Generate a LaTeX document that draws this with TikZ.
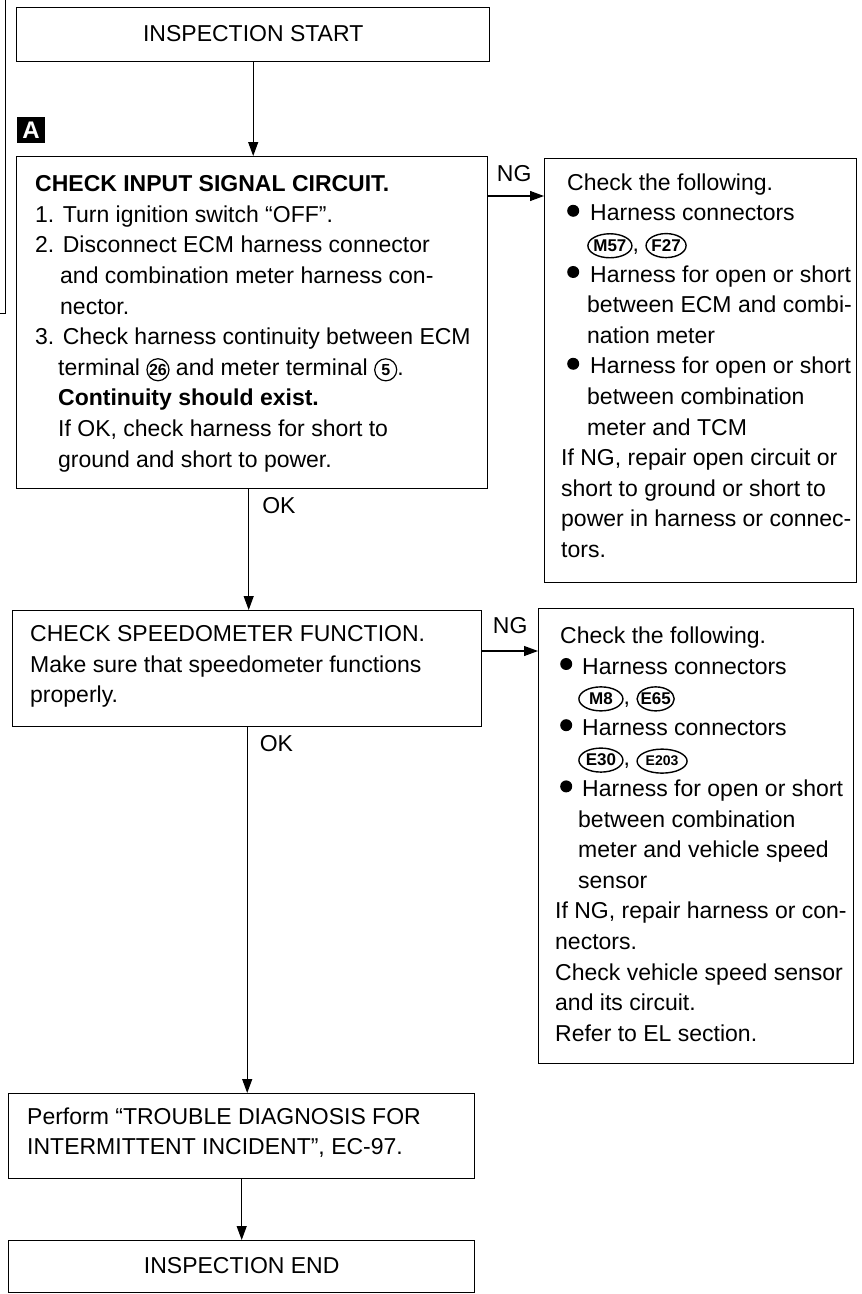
\documentclass[tikz,border=0pt]{standalone}
\usepackage{fontspec}
\setmainfont{Liberation Sans}
\usetikzlibrary{arrows.meta, positioning, shapes.geometric}

\newcommand{\bodysize}{\fontsize{23}{30.6}\selectfont}
\newcommand{\bul}{\raisebox{0.18em}{\tikz\fill (0,0) circle (6pt);}}
\newcommand{\termno}[1]{\tikz[baseline=(tn.base)]\node[draw, circle, line width=1.2pt, inner sep=0pt, minimum size=22pt, font=\bfseries\fontsize{16}{16}\selectfont] (tn) {#1};}
\newcommand{\connbadge}[2][44pt]{\tikz[baseline=(cb.base)]\node[draw, ellipse, line width=1.4pt, inner xsep=-2pt, inner ysep=0pt, minimum width=#1, minimum height=24pt, font=\bfseries\fontsize{17}{17}\selectfont] (cb) {#2};}

\tikzset{
  stepbox/.style={draw, line width=1.4pt, anchor=north west, inner sep=0pt, font=\bodysize},
  steptext/.style={anchor=west, inner sep=0pt, align=left, font=\bodysize},
  flow/.style={line width=1.1pt, -{Triangle[width=10pt, length=14pt]}},
  branch/.style={font=\bodysize, inner sep=0pt}
}

\begin{document}
\begin{tikzpicture}[x=1pt, y=-1pt]
  \useasboundingbox (0,0) rectangle (862,1294);

  % Page margin rule
  \draw[line width=1pt] (5,0) -- (5,313) -- (0,313);

  % Start
  \node[stepbox, minimum width=473pt, minimum height=54pt] (start) at (16,7) {\raisebox{3pt}{INSPECTION START}};
  \node[fill=black, text=white, minimum width=28pt, minimum height=26pt, inner sep=0pt,
        font=\bfseries\fontsize{24}{24}\selectfont] (badge) at (31,130) {A};

  % Input signal circuit
  \node[stepbox, minimum width=471pt, minimum height=332pt] (signal) at (16,156) {};
  \node[steptext] (signaltxt) at ([xshift=19pt, yshift=-1pt]signal.west) {%
    \textbf{CHECK INPUT SIGNAL CIRCUIT.}\\
    1. Turn ignition switch “OFF”.\\
    2. Disconnect ECM harness connector\\
    \hspace*{25pt}and combination meter harness con-\\
    \hspace*{25pt}nector.\\
    3. Check harness continuity between ECM\\
    \hspace*{23pt}terminal \termno{26} and meter terminal \termno{5}.\\
    \hspace*{23pt}\textbf{Continuity should exist.}\\
    \hspace*{23pt}If OK, check harness for short to\\
    \hspace*{23pt}ground and short to power.};

  \node[stepbox, minimum width=312pt, minimum height=424pt] (ngone) at (544,158) {};
  \node[steptext] (ngonetxt) at ([xshift=17pt, yshift=5pt]ngone.west) {%
    \hspace*{6pt}Check the following.\\
    \hspace*{6pt}\makebox[23pt][l]{\bul}Harness connectors\\
    \hspace*{26pt}\connbadge{M57}, \connbadge[40pt]{F27}\\
    \hspace*{6pt}\makebox[23pt][l]{\bul}Harness for open or short\\
    \hspace*{26pt}between ECM and combi-\\
    \hspace*{26pt}nation meter\\
    \hspace*{6pt}\makebox[23pt][l]{\bul}Harness for open or short\\
    \hspace*{26pt}between combination\\
    \hspace*{26pt}meter and TCM\\
    If NG, repair open circuit or\\
    short to ground or short to\\
    power in harness or connec-\\
    tors.};

  % Speedometer function
  \node[stepbox, minimum width=469pt, minimum height=116pt] (speedo) at (12,610) {};
  \node[steptext] (speedotxt) at ([xshift=18pt, yshift=2pt]speedo.west) {%
    CHECK SPEEDOMETER FUNCTION.\\
    Make sure that speedometer functions\\
    properly.};

  \node[stepbox, minimum width=315pt, minimum height=455pt] (ngtwo) at (538,608) {};
  \node[steptext] (ngtwotxt) at ([xshift=17pt, yshift=2pt]ngtwo.west) {%
    \hspace*{5pt}Check the following.\\
    \hspace*{5pt}\makebox[22pt][l]{\bul}Harness connectors\\
    \hspace*{23pt}\connbadge{M8}, \connbadge[34pt]{E65}\\
    \hspace*{5pt}\makebox[22pt][l]{\bul}Harness connectors\\
    \hspace*{23pt}\connbadge{E30}, \connbadge[50pt]{\fontsize{14}{14}\selectfont E203}\\
    \hspace*{5pt}\makebox[22pt][l]{\bul}Harness for open or short\\
    \hspace*{23pt}between combination\\
    \hspace*{23pt}meter and vehicle speed\\
    \hspace*{23pt}sensor\\
    If NG, repair harness or con-\\
    nectors.\\
    Check vehicle speed sensor\\
    and its circuit.\\
    Refer to EL section.};

  % Intermittent incident and end
  \node[stepbox, minimum width=466pt, minimum height=85pt] (perform) at (8,1093) {};
  \node[steptext] (performtxt) at ([xshift=19pt, yshift=3.5pt]perform.west) {%
    Perform “TROUBLE DIAGNOSIS FOR\\
    INTERMITTENT INCIDENT”, EC-97.};
  \node[stepbox, minimum width=466pt, minimum height=52pt] (finish) at (8,1240) {\raisebox{3pt}{INSPECTION END}};

  % Connectors
  \coordinate (ngonefrom) at ([yshift=-40pt]signal.north east);
  \coordinate (ngtwofrom) at ([yshift=-41pt]speedo.north east);
  \coordinate (okone) at ([xshift=-3.5pt]signal.south);

  \draw[flow] (start.south) -- (start.south |- signal.north);
  \draw[flow] (ngonefrom) -- (ngonefrom -| ngone.west) node[branch, midway, above=14pt, xshift=-2pt] {NG};
  \draw[flow] (okone) -- (okone |- speedo.north) node[branch, pos=0.13, right=13pt] {OK};
  \draw[flow] (ngtwofrom) -- (ngtwofrom -| ngtwo.west) node[branch, midway, above=17pt] {NG};
  \draw[flow] (speedo.south) -- (speedo.south |- perform.north) node[branch, pos=0.045, right=12pt] {OK};
  \draw[flow] (perform.south) -- (perform.south |- finish.north);
\end{tikzpicture}
\end{document}
